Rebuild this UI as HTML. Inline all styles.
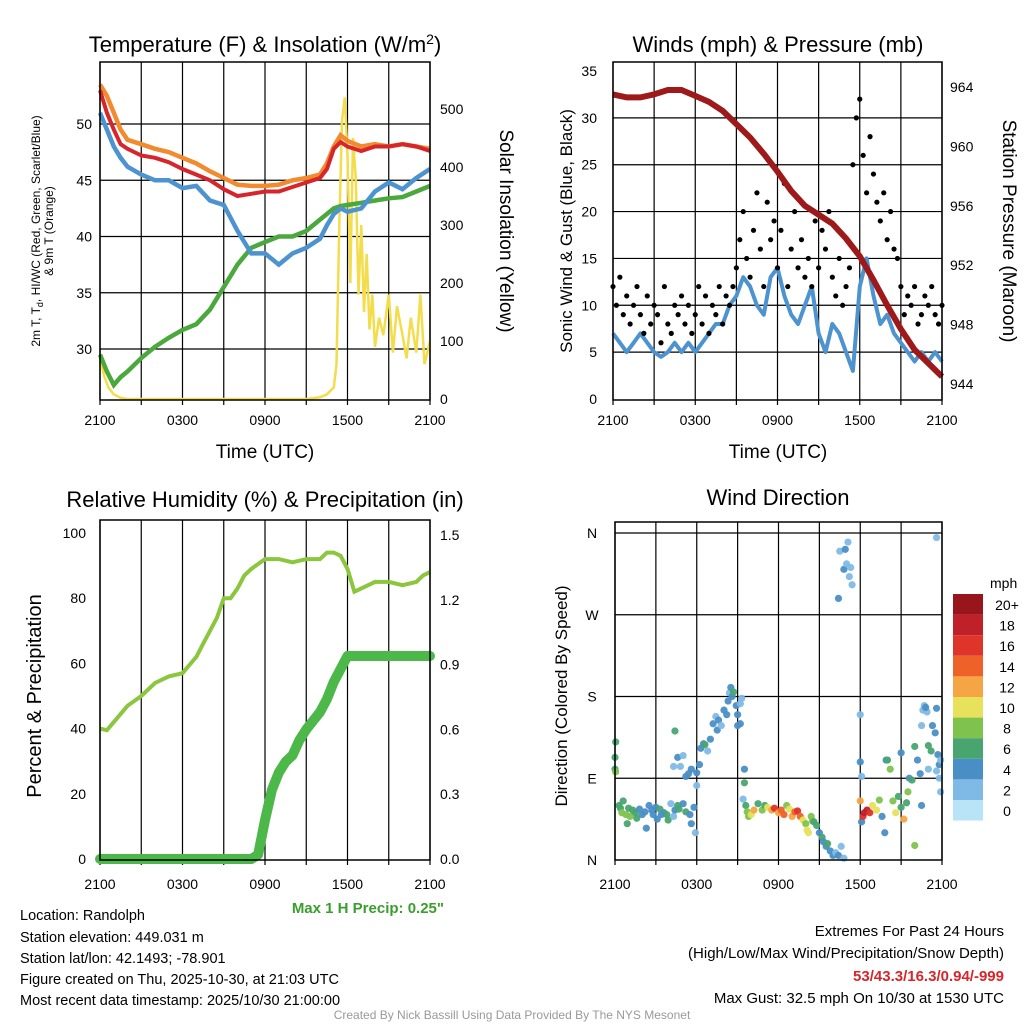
<!DOCTYPE html>
<html><head><meta charset="utf-8"><style>
body{margin:0;background:#fff}
svg{display:block;font-family:"Liberation Sans",sans-serif}
</style></head><body>
<svg id="s" width="1024" height="1024" viewBox="0 0 1024 1024">
<g id="g1"></g>
<g id="g2"></g>
<g id="g3"></g>
<g id="g4"></g>
<text x="265" y="52" text-anchor="middle" font-size="22">Temperature (F) &amp; Insolation (W/m<tspan dy="-8" font-size="14">2</tspan><tspan dy="8">)</tspan></text>
<text x="778" y="52" text-anchor="middle" font-size="22">Winds (mph) &amp; Pressure (mb)</text>
<text x="265" y="507" text-anchor="middle" font-size="22">Relative Humidity (%) &amp; Precipitation (in)</text>
<text x="778" y="505" text-anchor="middle" font-size="22">Wind Direction</text>
<text transform="translate(40,231) rotate(-90)" text-anchor="middle" font-size="12">2m T, T<tspan dy="3" font-size="9">d</tspan><tspan dy="-3">, HI/WC (Red, Green, Scarlet/Blue)</tspan></text>
<text transform="translate(53,231) rotate(-90)" text-anchor="middle" font-size="12">&amp; 9m T (Orange)</text>
<text transform="translate(500,231) rotate(90)" text-anchor="middle" font-size="19">Solar Insolation (Yellow)</text>
<text transform="translate(572,231) rotate(-90)" text-anchor="middle" font-size="17">Sonic Wind &amp; Gust (Blue, Black)</text>
<text transform="translate(1003,231) rotate(90)" text-anchor="middle" font-size="19">Station Pressure (Maroon)</text>
<text transform="translate(41,696) rotate(-90)" text-anchor="middle" font-size="20">Percent &amp; Precipitation</text>
<text transform="translate(567,696) rotate(-90)" text-anchor="middle" font-size="17">Direction (Colored By Speed)</text>
<text x="265" y="458" text-anchor="middle" font-size="19">Time (UTC)</text>
<text x="778" y="458" text-anchor="middle" font-size="19">Time (UTC)</text>
<text x="444" y="913" text-anchor="end" font-size="15" font-weight="bold" fill="#3a9e2e">Max 1 H Precip: 0.25"</text>
<g font-size="14.5">
<text x="20" y="920">Location: Randolph</text>
<text x="20" y="942">Station elevation: 449.031 m</text>
<text x="20" y="963">Station lat/lon: 42.1493; -78.901</text>
<text x="20" y="984">Figure created on Thu, 2025-10-30, at 21:03 UTC</text>
<text x="20" y="1005">Most recent data timestamp: 2025/10/30 21:00:00</text>
</g>
<g font-size="15" text-anchor="end">
<text x="1004" y="936">Extremes For Past 24 Hours</text>
<text x="1004" y="958">(High/Low/Max Wind/Precipitation/Snow Depth)</text>
<text x="1004" y="981" fill="#d7262b" font-weight="bold">53/43.3/16.3/0.94/-999</text>
<text x="1004" y="1003">Max Gust: 32.5 mph On 10/30 at 1530 UTC</text>
</g>
<text x="512" y="1019" text-anchor="middle" font-size="12" fill="#999">Created By Nick Bassill Using Data Provided By The NYS Mesonet</text>
<g id="cb"></g>
</svg>
<script>
// ---- data ----
const xTickLabels=["2100","0300","0900","1500","2100"];
const tHours=[0,0.5,1,1.5,2,3,4,5,6,7,8,9,10,11,12,13,14,15,16,16.5,17,17.5,18,19,20,21,22,23,24];
const temp9m=[53.5,52.5,51,49.5,48.6,48.2,47.8,47.5,47,46.5,45.8,45.2,44.6,44.5,44.5,44.6,45,45.2,45.5,46.5,48,49,48.5,48,48.2,48,48.2,48,47.8];
const temp2m=[53,51,49.5,48.2,47.8,47.2,47,46.6,46,45.5,45,44.2,43.6,43.8,44,44,44.4,44.8,45.2,46,47.8,48.4,48,47.6,48,48,48.2,48,47.6];
const windChill=[51,49.5,48,47,46.2,45.5,45,45,44.3,44.5,43.2,42.8,40.5,38.5,38.5,37.5,38.5,39,39.8,41,42,42.5,42.2,42.5,44,44.8,44.2,45.2,46];
const dewPt=[29.5,28,26.8,27.5,28,29.2,30.2,31,31.7,32.2,33.5,35.5,37.5,39,39.5,40,40,40.5,41.5,42,42.5,42.7,42.8,43,43.2,43.4,43.5,44,44.5];
const solarHours=[0,0.3,0.6,1,1.5,2,4,8,12,14,15,16,16.5,17,17.2,17.4,17.6,17.8,18,18.2,18.4,18.6,18.8,19,19.2,19.4,19.6,19.8,20,20.3,20.6,21,21.3,21.6,22,22.3,22.6,23,23.3,23.6,24];
const solar=[70,40,20,8,2,0,0,0,0,0,0,3,8,20,60,300,480,520,420,200,450,380,180,300,150,250,120,180,90,140,110,180,80,160,110,70,140,80,180,60,100];
const windHours=[0,0.5,1,1.5,2,2.5,3,3.5,4,4.5,5,5.5,6,6.5,7,7.5,8,8.5,9,9.5,10,10.5,11,11.5,12,12.5,13,13.5,14,14.5,15,15.5,16,16.5,17,17.5,18,18.5,19,19.5,20,20.5,21,21.5,22,22.5,23,23.5,24];
const wind=[7,6,5,6,7,6,5,4.5,5,6,5,6,5,6,7,8,8,10,11,13,12,10,9,13,14,11,9,8,10,12,7,5,8,7,5,3,12,15,11,8,9,7,6,5,4,5,4,5,4];
const gust=[12,10,13,9,11,8,10,12,9,7,11,8,10,9,6,12,8,7,10,9,11,8,10,7,9,12,8,11,7,10,9,12,8,11,10,12,
14,17,20,15,13,18,22,16,12,21,17,19,14,18,23,12,16,20,14,17,13,15,12,19,14,18,16,20,
13,11,15,10,12,14,
25,30,32,26,22,28,24,21,
19,22,17,20,16,15,
12,9,11,10,12,8,9,11,10,12,9,8,10];
const presHours=[0,1,2,3,4,5,6,7,8,9,10,11,12,13,14,15,16,17,18,19,20,21,22,23,24];
const pressure=[963.5,963.3,963.3,963.5,963.8,963.8,963.4,963,962.4,961.5,960.6,959.5,958.3,957,956,955.4,954.8,953.8,952.6,951,949.3,947.7,946.3,945.4,944.5];
const rhHours=[0,0.5,1,2,3,4,5,6,7,7.5,8,8.5,9,9.5,10,10.5,11,12,13,14,15,16,16.5,17,17.5,18,18.5,19,20,21,22,23,23.5,24];
const rh=[40,39.5,42,47,50,54,56,57,62,66,70,74,80,80,83,87,89,92,92,91,92,92,94,94,93,89,82,83,85,85,84,85,87,88];
const pcpHours=[0,11,11.5,12,12.5,13,13.5,14,14.5,15,15.5,16,16.5,17,17.5,18,24];
const precip=[0,0,0.02,0.18,0.32,0.4,0.45,0.48,0.55,0.6,0.64,0.68,0.74,0.82,0.88,0.94,0.94];
const dirHours=[0,0,0.05,0.05,0.3,0.4,0.5,0.6,0.8,0.9,1,1.1,1.3,1.5,1.6,1.8,2,2.2,2.3,2.5,2.7,2.8,3,3.1,3.3,3.4,3.6,3.8,3.9,4.1,4.3,4.4,4.6,4.7,5,5.2,5.5,5.6,5.8,5.9,6,
4.3,4.4,4.6,4.8,5,5.2,5.4,5.6,6,6.2,6.3,6.5,6.6,6.8,7,7.2,7.4,7.5,7.6,7.8,8,8.2,8.3,8.4,8.5,8.6,8.7,8.9,9,9.2,9,9.3,9.2,
9.5,9.5,9.4,9.6,9.7,9.8,10,10.2,10.5,10.8,11,11.2,11.5,11.7,12,12.2,12.4,12.6,12.8,13,13.2,13.4,13.6,13.8,14,14.1,14.2,14.4,14.5,
14.6,14.8,15,15.2,15.3,15.5,15.6,15.8,16,16.2,16.4,16.6,16.8,
16.4,16.5,16.8,16.9,17,17.1,17.2,17.3,17.4,
18,18,18.1,18.1,18,18.2,18.3,18.5,18.7,18.9,19.2,19.4,19.6,19.8,19.9,20,20.2,20.4,20.6,20.8,21,21.2,21.4,21.5,
21,21.6,21.8,22,22,22.2,22.4,22.5,22.5,22.6,22.7,22.9,22.8,23,23.2,23.3,23.5,23.6,23.7,23.8,23.8,23.9,23.9,23.6,23,23.6];
const dirDeg=[113,100,97,130,60,57,52,65,50,40,57,48,55,52,46,56,50,53,35,60,55,50,58,45,56,50,52,50,44,62,48,55,60,56,62,53,50,40,58,30,82,
103,142,113,103,115,92,95,100,96,105,123,128,127,120,133,150,158,143,154,148,165,160,175,184,190,180,185,170,160,150,148,178,172,
100,85,67,60,53,48,50,55,62,55,60,58,55,57,52,55,50,60,56,48,53,54,48,44,40,33,30,48,43,
42,38,30,25,20,15,18,10,5,8,5,15,2,
288,340,320,342,326,350,312,322,303,
160,108,92,42,65,48,52,55,52,60,55,66,48,30,110,110,100,65,52,70,58,45,63,75,
118,90,88,16,125,110,95,60,148,165,170,163,168,126,120,148,140,167,116,105,90,75,110,98,100,355];
const dirSpeed=[6,6,8,6,6,6,8,6,8,6,6,8,6,6,6,4,4,4,4,4,4,4,4,4,6,4,4,6,6,2,2,4,6,6,4,6,4,4,4,2,2,
2,6,4,2,2,4,4,4,4,4,4,4,6,2,4,4,2,4,4,2,4,4,4,2,4,4,6,4,4,4,4,2,2,
4,6,2,6,8,8,10,12,6,8,6,10,12,16,12,14,14,8,10,12,14,16,14,10,8,10,10,8,8,
6,6,4,6,4,4,6,4,4,2,4,2,2,
4,2,4,4,2,2,2,2,2,
2,4,2,4,12,16,18,18,16,10,10,8,4,4,4,6,8,8,10,6,6,12,6,8,
4,4,6,8,6,4,4,4,2,2,2,2,4,6,6,4,4,4,4,4,2,2,2,2,2,2];
const cbLabels=["20+","18","16","14","12","10","8","6","4","2","0"];
const cbColors=["#98161b","#c0202a","#de3429","#ee6129","#f6a544","#e7e15b","#7fc34e","#48a570","#4a8ec6","#7fbae6","#b9e4f8"];

// ---- helpers ----
const NS="http://www.w3.org/2000/svg";
function mk(parent,tag,attrs,name){const e=document.createElementNS(NS,tag);for(const k in attrs)e.setAttribute(k,attrs[k]);


parent.appendChild(e);return e;}
function lin(d0,d1,r0,r1){return v=>r0+(v-d0)*(r1-r0)/(d1-d0);}
function path(xs,ys,fx,fy){return xs.map((x,i)=>(i?'L':'M')+fx(x).toFixed(1)+','+fy(ys[i]).toFixed(1)).join('');}
function frame(g,x0,x1,y0,y1,fx,hGrid,fy){
  mk(g,'rect',{x:x0,y:y0,width:x1-x0,height:y1-y0,fill:'#fff'},'plot-area');
  for(let h=0;h<=24;h+=3){mk(g,'line',{x1:fx(h),x2:fx(h),y1:y0,y2:y1,stroke:'#000','stroke-width':1.2},'x-grid-line');
  mk(g,'line',{x1:fx(h),x2:fx(h),y1:y1,y2:y1+5,stroke:'#000','stroke-width':1.2},'x-tick');}
  hGrid.forEach(v=>mk(g,'line',{x1:x0,x2:x1,y1:fy(v),y2:fy(v),stroke:'#000','stroke-width':1.2},'y-grid-line'));
}
function border(g,x0,x1,y0,y1){mk(g,'rect',{x:x0,y:y0,width:x1-x0,height:y1-y0,fill:'none',stroke:'#000','stroke-width':1.5},'plot-border');}
function xlabels(g,fx,y){xTickLabels.forEach((l,i)=>{const t=mk(g,'text',{x:fx(i*6),y:y,'text-anchor':'middle','font-size':14},'x-tick-label');t.textContent=l;});}
function ylabels(g,vals,fy,x,anchor,fmt){vals.forEach(v=>{const t=mk(g,'text',{x:x,y:fy(v)+5,'text-anchor':anchor,'font-size':14},'y-tick-label');t.textContent=fmt?fmt(v):v;});}

// ---- panel 1 ----
(function(){const g=document.getElementById('g1');const X0=100,X1=430,Y0=62,Y1=400;
const fx=lin(0,24,X0,X1), fy=lin(30,50,349,124), fs=lin(0,500,399,109);
frame(g,X0,X1,Y0,Y1,fx,[30,35,40,45,50],fy);
mk(g,'path',{d:path(solarHours,solar,fx,fs),fill:'none',stroke:'#f3dd4c','stroke-width':2.5},'solar-line');
mk(g,'path',{d:path(tHours,dewPt,fx,fy),fill:'none',stroke:'#4aa83d','stroke-width':4.5},'dewpoint-line');
mk(g,'path',{d:path(tHours,windChill,fx,fy),fill:'none',stroke:'#4d93cf','stroke-width':4.5},'windchill-line');
mk(g,'path',{d:path(tHours,temp9m,fx,fy),fill:'none',stroke:'#f28a2e','stroke-width':4.5},'temp-9m-line');
mk(g,'path',{d:path(tHours,temp2m,fx,fy),fill:'none',stroke:'#d7262b','stroke-width':4},'temp-2m-line');
border(g,X0,X1,Y0,Y1);xlabels(g,fx,425);
ylabels(g,[30,35,40,45,50],fy,92,'end');ylabels(g,[0,100,200,300,400,500],fs,440,'start');})();

// ---- panel 2 ----
(function(){const g=document.getElementById('g2');const X0=613,X1=942,Y0=62,Y1=400;
const fx=lin(0,24,X0,X1), fy=lin(0,35,399,71), fp=lin(944,964,384,87);
frame(g,X0,X1,Y0,Y1,fx,[5,10,15,20,25,30],fy);
mk(g,'path',{d:path(windHours,wind,fx,fy),fill:'none',stroke:'#4d93cf','stroke-width':4,'stroke-linejoin':'round'},'sonic-wind-line');
gust.forEach((v,i)=>{mk(g,'circle',{cx:fx(i*24/(gust.length-1)),cy:fy(v),r:2.6,fill:'#000'},'gust-point');});
mk(g,'path',{d:path(presHours,pressure,fx,fp),fill:'none',stroke:'#9e1a1a','stroke-width':6},'pressure-line');
border(g,X0,X1,Y0,Y1);xlabels(g,fx,425);
ylabels(g,[0,5,10,15,20,25,30,35],fy,597,'end');ylabels(g,[944,948,952,956,960,964],fp,950,'start');})();

// ---- panel 3 ----
(function(){const g=document.getElementById('g3');const X0=100,X1=430,Y0=520,Y1=860;
const fx=lin(0,24,X0,X1), fy=lin(0,100,859,533), fp=lin(0,1.5,859,535);
frame(g,X0,X1,Y0,Y1,fx,[],fy);
mk(g,'path',{d:path(rhHours,rh,fx,fy),fill:'none',stroke:'#8cc63f','stroke-width':4},'humidity-line');
mk(g,'path',{d:path(pcpHours,precip,fx,fp),fill:'none',stroke:'#4cb84a','stroke-width':10,'stroke-linejoin':'round','stroke-linecap':'round'},'precip-line');
border(g,X0,X1,Y0,Y1);xlabels(g,fx,889);
ylabels(g,[0,20,40,60,80,100],fy,86,'end');ylabels(g,[0,0.3,0.6,0.9,1.2,1.5],fp,440,'start',v=>v.toFixed(1));})();

// ---- panel 4 ----
(function(){const g=document.getElementById('g4');const X0=615,X1=942,Y0=522,Y1=860;
const fx=lin(0,24,X0,X1), fy=lin(0,360,860,533);
frame(g,X0,X1,Y0,Y1,fx,[90,180,270,360],fy);
function col(s){let i=Math.min(10,Math.floor(s/2));return cbColors[10-i];}
dirHours.forEach((h,i)=>{mk(g,'circle',{cx:fx(h),cy:fy(dirDeg[i]),r:3.6,fill:col(dirSpeed[i]),opacity:0.95},'direction-point');});
border(g,X0,X1,Y0,Y1);xlabels(g,fx,889);
["N","E","S","W","N"].forEach((l,i)=>{const t=mk(g,'text',{x:592,y:fy(i*90)+5,'text-anchor':'middle','font-size':14},'direction-tick-label');t.textContent=l;});
const cb=document.getElementById('cb');
const t=mk(cb,'text',{x:990,y:588,'text-anchor':'start','font-size':14},'colorbar-unit');t.textContent='mph';
cbColors.forEach((c,i)=>{mk(cb,'rect',{x:953,y:594+i*20.6,width:30,height:20.6,fill:c},'colorbar-box');
const l=mk(cb,'text',{x:1007,y:610+i*20.6,'text-anchor':'middle','font-size':14},'colorbar-label');l.textContent=cbLabels[i];});})();
</script>
</body></html>
